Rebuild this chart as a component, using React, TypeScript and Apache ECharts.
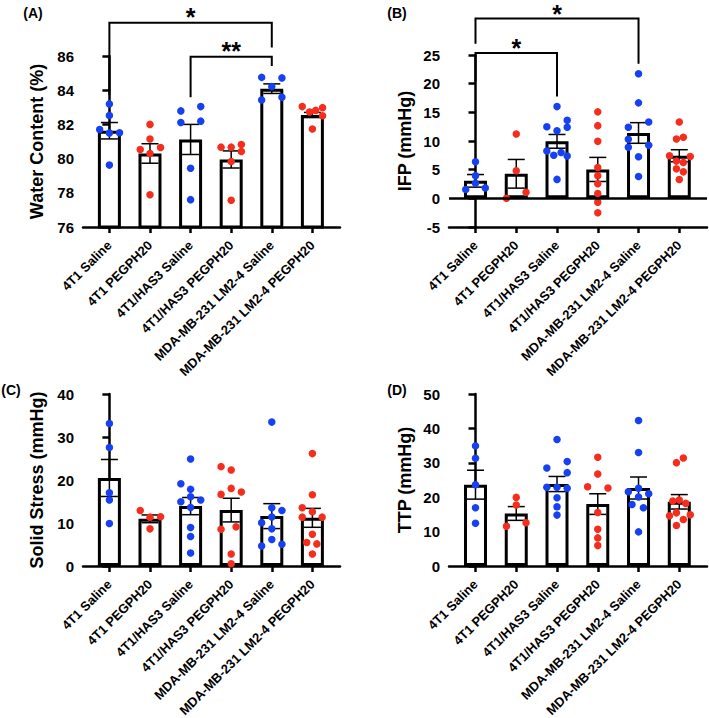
import React, { useEffect, useRef } from 'react';
import * as echarts from 'echarts';

const categories = [
  '4T1 Saline',
  '4T1 PEGPH20',
  '4T1/HAS3 Saline',
  '4T1/HAS3 PEGPH20',
  'MDA-MB-231 LM2-4 Saline',
  'MDA-MB-231 LM2-4 PEGPH20',
];
const BLUE = '#1541f2';
const RED = '#f42d1c';
const groupColors = [BLUE, RED, BLUE, RED, BLUE, RED];

// (A) Water content
const waterMeans = [81.63, 80.3, 81.12, 79.95, 84.09, 82.55];
const waterSem = [0.48, 0.57, 0.88, 0.5, 0.28, 0.15];
const waterPoints = [
  [83.2, 82.52, 81.7, 81.49, 81.51, 79.62],
  [82.0, 81.15, 80.53, 80.65, 80.3, 77.89],
  [82.79, 83.04, 82.11, 82.19, 79.44, 77.6],
  [80.67, 80.67, 80.82, 80.42, 79.83, 77.56],
  [84.75, 84.72, 84.21, 83.43, 83.59],
  [83.04, 82.73, 82.82, 82.98, 82.51, 81.73],
];
const waterJitter = [
  [0, 0, -0.24, 0, 0.25, 0],
  [0, 0, -0.24, 0.26, 0, 0],
  [-0.24, 0.25, -0.24, 0.25, 0, 0],
  [-0.25, 0, 0.25, 0.25, 0, 0],
  [-0.25, 0.25, 0, -0.25, 0.25],
  [-0.25, -0.07, 0.08, 0.25, 0.25, 0],
];
// [from, to, top, leftLegBottom, rightLegBottom, starY]
const waterBrackets = [
  [0, 4, 87.95, 83.72, 86.49, 88.63],
  [2, 4, 85.96, 83.59, 85.42, 86.64],
];
const waterBracketLabels = ['*', '**'];

// (B) IFP
const ifpMeans = [3.05, 4.28, 9.94, 5.04, 11.4, 7.43];
const ifpSem = [1.1, 2.5, 1.2, 2.1, 1.8, 1.05];
const ifpPoints = [
  [6.38, 3.93, 2.64, 1.53, 1.82],
  [11.22, 4.8, 1.07, 0.01],
  [16.0, 13.6, 12.5, 12.4, 11.8, 8.25, 8.0, 7.5, 7.37, 3.3],
  [15.08, 12.68, 9.94, 5.39, 3.93, 2.53, 0.83, -0.69, -2.5],
  [21.73, 16.65, 13.32, 12.39, 10.29, 9.24, 8.89, 7.25, 3.81],
  [13.32, 10.34, 10.64, 7.42, 7.3, 6.49, 6.26, 5.14, 4.62, 3.28],
];
const ifpJitter = [
  [0, 0, 0, -0.24, 0.24],
  [0, 0, 0.24, -0.24],
  [0, 0.25, -0.25, 0.25, 0, -0.25, 0.1, -0.08, 0.25, 0],
  [0, 0, 0, 0, 0, 0, 0, 0, 0],
  [0, 0, 0.25, -0.25, -0.25, 0.25, -0.25, 0, 0],
  [0, -0.07, 0.1, -0.24, 0.27, -0.07, 0.1, -0.07, 0.1, 0],
];
const ifpBrackets = [
  [0, 4, 31.36, 26.98, 23.48, 33.16],
  [0, 2, 25.35, 20.38, 17.75, 27.33],
];
const ifpBracketLabels = ['*', '*'];

// (C) Solid stress
const stressMeans = [20.47, 10.97, 13.93, 13.0, 11.6, 11.2];
const stressSem = [4.3, 0.9, 2.0, 2.75, 2.9, 2.2];
const stressPoints = [
  [33.15, 27.55, 17.04, 15.33, 9.88],
  [12.92, 11.36, 11.44, 8.64],
  [24.9, 19.14, 17.82, 16.1, 15.33, 14.94, 13.62, 8.95, 6.85, 3.04],
  [23.11, 22.33, 18.05, 17.2, 16.65, 9.1, 8.56, 2.8, 0.54],
  [33.46, 13.54, 12.92, 11.4, 10.04, 8.64, 6.15, 5.06, 4.67],
  [26.14, 16.58, 13.54, 12.6, 11.36, 11.36, 7.4, 5.45, 5.14, 2.8],
];
const stressJitter = [
  [0, 0, 0, 0, 0],
  [-0.24, 0, 0.26, 0],
  [0, -0.24, 0, 0, 0.25, -0.24, 0, 0, 0, 0],
  [-0.25, 0, 0, 0.25, -0.25, 0.12, -0.25, 0, 0],
  [0, 0, 0.25, 0, -0.25, 0, 0, 0.25, -0.25],
  [0, 0, -0.25, 0, -0.25, 0.24, 0, -0.14, 0.11, 0],
];

// (D) TTP
const ttpMeans = [23.64, 15.27, 23.83, 18.0, 22.67, 18.66];
const ttpSem = [4.2, 2.0, 2.2, 3.0, 3.2, 2.1];
const ttpPoints = [
  [34.92, 31.32, 23.64, 16.93, 12.45],
  [19.94, 17.7, 12.55, 11.58],
  [36.77, 30.35, 28.5, 27.14, 22.86, 22.86, 22.57, 19.84, 17.22, 14.79],
  [31.61, 26.75, 23.05, 22.67, 15.56, 10.7, 8.17, 5.93],
  [42.3, 32.98, 22.57, 21.6, 21.0, 20.04, 17.9, 16.93, 9.92],
  [31.41, 30.04, 19.16, 18.86, 18.2, 15.45, 14.87, 14.58, 13.5, 11.77],
];
const ttpJitter = [
  [0, 0, 0, 0, 0],
  [0, 0, 0.24, -0.24],
  [0, 0.25, -0.25, 0.25, -0.25, 0, 0.25, 0, 0, 0],
  [0, 0, -0.25, 0.25, 0, 0, 0, 0],
  [0, 0, 0, -0.25, 0.25, 0, -0.16, 0.12, 0],
  [0.1, -0.07, 0, -0.16, 0.16, -0.07, 0.27, -0.24, 0.1, -0.07],
];

const FONT = "'Liberation Sans', Arial, sans-serif";

const panels = [
  {
    letter: '(A)', name: 'Water Content (%)', min: 76, max: 86, interval: 2,
    means: waterMeans, sem: waterSem, points: waterPoints, jitter: waterJitter,
    brackets: waterBrackets, bracketLabels: waterBracketLabels,
    grid: { left: 83, top: 56, width: 257, height: 171 }, nameGap: 37, zero: false,
    labelPos: [33, 13],
  },
  {
    letter: '(B)', name: 'IFP (mmHg)', min: -5, max: 25, interval: 5,
    means: ifpMeans, sem: ifpSem, points: ifpPoints, jitter: ifpJitter,
    brackets: ifpBrackets, bracketLabels: ifpBracketLabels,
    grid: { left: 449, top: 55, width: 258, height: 172 }, nameGap: 35, zero: true,
    labelPos: [397, 13],
  },
  {
    letter: '(C)', name: 'Solid Stress (mmHg)', min: 0, max: 40, interval: 10,
    means: stressMeans, sem: stressSem, points: stressPoints, jitter: stressJitter,
    brackets: [], bracketLabels: [],
    grid: { left: 83, top: 394, width: 257, height: 172 }, nameGap: 37, zero: false,
    labelPos: [11, 390],
  },
  {
    letter: '(D)', name: 'TTP (mmHg)', min: 0, max: 50, interval: 10,
    means: ttpMeans, sem: ttpSem, points: ttpPoints, jitter: ttpJitter,
    brackets: [], bracketLabels: [],
    grid: { left: 449, top: 394, width: 258, height: 172 }, nameGap: 35, zero: false,
    labelPos: [397, 390],
  },
];

function buildOption() {
  const grid: any[] = [];
  const xAxis: any[] = [];
  const yAxis: any[] = [];
  const series: any[] = [];
  const graphic: any[] = [];
  const ticks = categories.map((_, i) => i);

  panels.forEach((p, k) => {
    grid.push({ ...p.grid, containLabel: false, outerBoundsMode: 'none' });
    xAxis.push({
      type: 'value', gridIndex: k, min: -0.65, max: 5.68,
      axisLine: { onZero: false, lineStyle: { color: '#000', width: 2.5 } },
      axisTick: { show: true, customValues: ticks, length: 6, lineStyle: { color: '#000', width: 2.5 } },
      axisLabel: {
        customValues: ticks, rotate: 45, margin: 16, color: '#000',
        fontFamily: FONT, fontWeight: 'bold', fontSize: 13,
        formatter: (v: number) => categories[Math.round(v)] ?? '',
      },
      splitLine: { show: false },
    });
    yAxis.push({
      type: 'value', gridIndex: k, min: p.min, max: p.max, interval: p.interval,
      name: p.name, nameLocation: 'middle', nameRotate: 90, nameGap: p.nameGap,
      nameTextStyle: { color: '#000', fontFamily: FONT, fontWeight: 'bold', fontSize: 18 },
      axisLine: { show: true, lineStyle: { color: '#000', width: 2.5 } },
      axisTick: { show: true, length: 7, lineStyle: { color: '#000', width: 2.5 } },
      axisLabel: { color: '#000', fontFamily: FONT, fontWeight: 'bold', fontSize: 15, margin: 9 },
      splitLine: { show: false },
    });

    series.push({
      type: 'bar', xAxisIndex: k, yAxisIndex: k, barWidth: 23, z: 2,
      data: p.means.map((m, i) => [i, m]),
      itemStyle: { color: '#fff', borderColor: '#000', borderWidth: 3 },
      markLine: p.zero ? {
        silent: true, symbol: ['none', 'none'], label: { show: false },
        lineStyle: { color: '#000', width: 2.5, type: 'solid' },
        data: [{ yAxis: 0 }],
      } : undefined,
    });

    series.push({
      type: 'custom', xAxisIndex: k, yAxisIndex: k, z: 3, clip: false,
      data: p.means.map((m, i) => [i, m, p.sem[i]]),
      renderItem: (_params: any, api: any) => {
        const x = api.value(0), m = api.value(1), s = api.value(2);
        const t = api.coord([x, m + s]);
        const b = api.coord([x, m - s]);
        const hw = 8.5;
        const st = { stroke: '#000', lineWidth: 1.5 };
        return {
          type: 'group', children: [
            { type: 'line', shape: { x1: t[0], y1: t[1], x2: b[0], y2: b[1] }, style: st },
            { type: 'line', shape: { x1: t[0] - hw, y1: t[1], x2: t[0] + hw, y2: t[1] }, style: st },
            { type: 'line', shape: { x1: b[0] - hw, y1: b[1], x2: b[0] + hw, y2: b[1] }, style: st },
          ],
        };
      },
    });

    const blue: any[] = [];
    const red: any[] = [];
    p.points.forEach((grp, i) => {
      grp.forEach((v, j) => {
        (groupColors[i] === BLUE ? blue : red).push([i + p.jitter[i][j], v]);
      });
    });
    series.push({
      type: 'scatter', xAxisIndex: k, yAxisIndex: k, z: 4, symbolSize: 7.5,
      data: blue, itemStyle: { color: BLUE, opacity: 1 },
    });
    series.push({
      type: 'scatter', xAxisIndex: k, yAxisIndex: k, z: 4, symbolSize: 7.5,
      data: red, itemStyle: { color: RED, opacity: 1 },
    });

    if (p.brackets.length) {
      const labels = p.bracketLabels;
      series.push({
        type: 'custom', xAxisIndex: k, yAxisIndex: k, z: 5, clip: false,
        data: p.brackets,
        renderItem: (params: any, api: any) => {
          const x1 = api.value(0), x2 = api.value(1), yt = api.value(2);
          const yl = api.value(3), yr = api.value(4), ys = api.value(5);
          const pts = [api.coord([x1, yl]), api.coord([x1, yt]), api.coord([x2, yt]), api.coord([x2, yr])];
          const ps = api.coord([(x1 + x2) / 2, ys]);
          return {
            type: 'group', children: [
              { type: 'polyline', shape: { points: pts }, style: { stroke: '#000', lineWidth: 2, fill: null } },
              {
                type: 'text', x: ps[0], y: ps[1] + 6,
                style: {
                  text: labels[params.dataIndex], fill: '#000', align: 'center', verticalAlign: 'middle',
                  font: `bold 25px ${FONT}`,
                },
              },
            ],
          };
        },
      });
    }

    graphic.push({
      type: 'text', x: p.labelPos[0], y: p.labelPos[1],
      style: {
        text: p.letter, fill: '#000', align: 'center', verticalAlign: 'middle',
        font: `bold 14px ${FONT}`,
      },
    });
  });

  return {
    animation: false,
    backgroundColor: '#fff',
    grid, xAxis, yAxis, series, graphic,
  };
}

export default function App() {
  const ref = useRef<HTMLDivElement>(null);
  useEffect(() => {
    if (!ref.current) return;
    const chart = echarts.init(ref.current, undefined, { renderer: 'svg' });
    chart.setOption(buildOption() as any);
    return () => chart.dispose();
  }, []);
  return (
    <div
      ref={ref}
      style={{ position: 'absolute', left: 0, top: 0, width: 709, height: 718, background: '#fff' }}
    />
  );
}
